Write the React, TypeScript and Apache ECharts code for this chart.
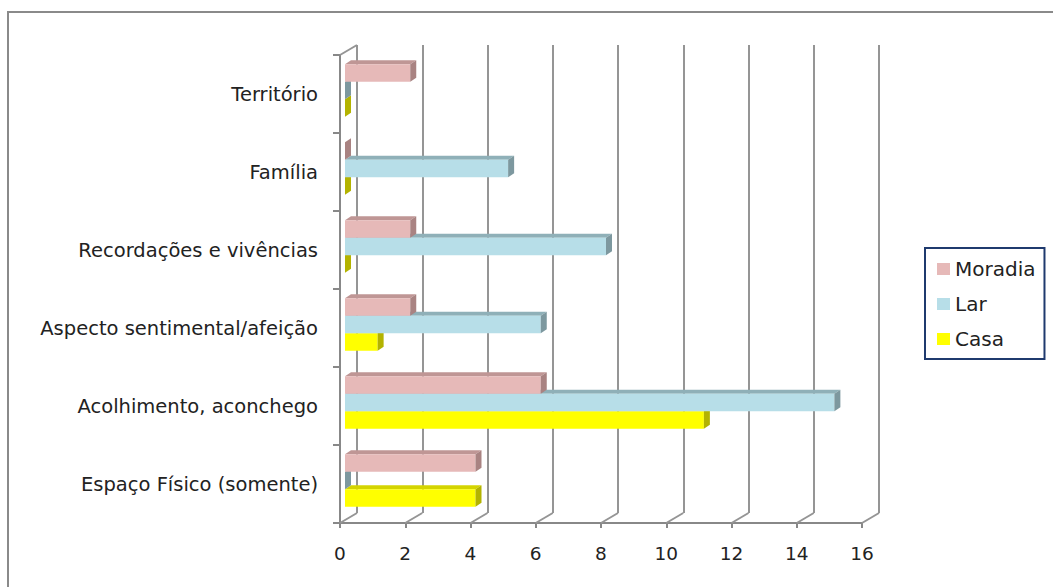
import React, { useEffect, useRef } from "react";
import * as echarts from "echarts";

// Categories, top to bottom
const categories = [
  "Território",
  "Família",
  "Recordações e vivências",
  "Aspecto sentimental/afeição",
  "Acolhimento, aconchego",
  "Espaço Físico (somente)",
];

const moradia = [2, 0, 2, 2, 6, 4];
const lar = [0, 5, 8, 6, 15, 0];
const casa = [0, 0, 0, 1, 11, 4];

const xTicks = [0, 2, 4, 6, 8, 10, 12, 14, 16];

const FONT = "DejaVu Sans";
const GRID_COLOR = "#959595";
const AXIS_COLOR = "#888888";

// Perspective offsets of the 3D box (front plane -> back wall)
const WALL_DX = 17;
const WALL_DY = -10;
// Bar plane sits slightly behind the front plane
const BAR_DX = 5;
const BAR_DY = -3.5;
// Bar thickness in depth
const BAR_DEPTH_X = 6;
const BAR_DEPTH_Y = -4;

type Shades = { face: string; top: string; side: string };

const SHADES: Record<string, Shades> = {
  Moradia: { face: "#e6b9b8", top: "#bf9695", side: "#a98382" },
  Lar: { face: "#b7dee8", top: "#8fb0b8", side: "#7d989f" },
  Casa: { face: "#ffff00", top: "#d4d400", side: "#b3b300" },
};

function barRenderer(slot: number, shades: Shades) {
  return (params: any, api: any) => {
    const v = api.value(0);
    const c = api.value(1);
    const cs = params.coordSys;
    const band = cs.height / categories.length;
    const h = band * 0.225;
    const start = api.coord([0, c]);
    const end = api.coord([v, c]);
    const cy = start[1] + slot * h + BAR_DY;
    const x0 = start[0] + BAR_DX;
    const x1 = end[0] + BAR_DX;
    const y0 = cy - h / 2;
    const y1 = cy + h / 2;
    return {
      type: "group",
      children: [
        {
          type: "polygon",
          shape: {
            points: [
              [x0, y0],
              [x1, y0],
              [x1 + BAR_DEPTH_X, y0 + BAR_DEPTH_Y],
              [x0 + BAR_DEPTH_X, y0 + BAR_DEPTH_Y],
            ],
          },
          style: { fill: shades.top },
        },
        {
          type: "rect",
          shape: { x: x0, y: y0, width: Math.max(x1 - x0, 0), height: h },
          style: { fill: shades.face },
        },
        {
          type: "polygon",
          shape: {
            points: [
              [x1, y0],
              [x1 + BAR_DEPTH_X, y0 + BAR_DEPTH_Y],
              [x1 + BAR_DEPTH_X, y1 + BAR_DEPTH_Y],
              [x1, y1],
            ],
          },
          style: { fill: shades.side },
        },
      ],
    };
  };
}

// Floor edges running from each front tick back to the wall
function floorRenderer(params: any, api: any) {
  const cs = params.coordSys;
  const v = api.value(0);
  const x = api.coord([v, 0])[0];
  const yb = cs.y + cs.height;
  const children: any[] = [
    {
      type: "line",
      shape: { x1: x, y1: yb, x2: x + WALL_DX, y2: yb + WALL_DY },
      style: { stroke: GRID_COLOR, lineWidth: 2 },
    },
  ];
  if (params.dataIndex === 0) {
    children.push({
      type: "line",
      shape: { x1: cs.x, y1: cs.y, x2: cs.x + WALL_DX, y2: cs.y + WALL_DY },
      style: { stroke: GRID_COLOR, lineWidth: 2 },
    });
  }
  return { type: "group", children };
}

const seriesDefs = [
  { name: "Moradia", values: moradia, slot: -1, z: 5 },
  { name: "Lar", values: lar, slot: 0, z: 4 },
  { name: "Casa", values: casa, slot: 1, z: 3 },
];

export default function App() {
  const ref = useRef<HTMLDivElement>(null);

  useEffect(() => {
    if (!ref.current) return;
    const chart = echarts.init(ref.current, undefined, { renderer: "svg" });

    const front = { left: 340, top: 55, width: 522, height: 468 };
    const back = {
      left: front.left + WALL_DX,
      top: front.top + WALL_DY,
      width: front.width,
      height: front.height,
    };

    chart.setOption({
      animation: false,
      backgroundColor: "#ffffff",
      textStyle: { fontFamily: FONT },
      grid: [front, back],
      xAxis: [
        {
          type: "value",
          gridIndex: 0,
          min: 0,
          max: 16,
          interval: 2,
          axisLine: { show: true, lineStyle: { color: AXIS_COLOR, width: 2 } },
          axisTick: { show: true, length: 5, lineStyle: { color: AXIS_COLOR, width: 2 } },
          axisLabel: {
            fontFamily: FONT,
            fontSize: 18.5,
            color: "#222222",
            margin: 21,
          },
          splitLine: { show: false },
        },
        {
          type: "value",
          gridIndex: 1,
          min: 0,
          max: 16,
          interval: 2,
          axisLine: { show: false },
          axisTick: { show: false },
          axisLabel: { show: false },
          splitLine: { show: true, lineStyle: { color: GRID_COLOR, width: 2 } },
        },
      ],
      yAxis: [
        {
          type: "category",
          gridIndex: 0,
          data: categories,
          inverse: true,
          axisLine: { show: true, lineStyle: { color: AXIS_COLOR, width: 2 } },
          axisTick: { show: true, length: 7, lineStyle: { color: AXIS_COLOR, width: 2 } },
          axisLabel: {
            fontFamily: FONT,
            fontSize: 19.5,
            color: "#222222",
            margin: 22,
          },
          splitLine: { show: false },
        },
        {
          type: "category",
          gridIndex: 1,
          data: categories,
          inverse: true,
          show: false,
        },
      ],
      legend: {
        data: seriesDefs.map((s) => ({ name: s.name, icon: "rect" })),
        orient: "vertical",
        left: 925,
        top: 248,
        itemWidth: 13,
        itemHeight: 12,
        itemGap: 15,
        padding: [11, 9, 10, 12],
        borderColor: "#1f3a6e",
        borderWidth: 2,
        backgroundColor: "#ffffff",
        textStyle: { fontFamily: FONT, fontSize: 20, color: "#222222" },
      },
      graphic: [
        {
          type: "line",
          shape: { x1: 7, y1: 12, x2: 1053, y2: 12 },
          style: { stroke: "#8a8a8a", lineWidth: 2 },
        },
        {
          type: "line",
          shape: { x1: 8, y1: 12, x2: 8, y2: 587 },
          style: { stroke: "#8a8a8a", lineWidth: 2 },
        },
      ],
      series: [
        {
          type: "custom",
          name: "floor",
          xAxisIndex: 0,
          yAxisIndex: 0,
          z: 1,
          silent: true,
          renderItem: floorRenderer,
          data: xTicks.map((v) => [v, 0]),
          encode: { x: 0, y: 1 },
        },
        ...seriesDefs.map((s) => ({
          type: "custom",
          name: s.name,
          xAxisIndex: 0,
          yAxisIndex: 0,
          z: s.z,
          itemStyle: { color: SHADES[s.name].face },
          renderItem: barRenderer(s.slot, SHADES[s.name]),
          data: s.values.map((v, i) => [v, i]),
          encode: { x: 0, y: 1 },
        })),
      ],
    });

    return () => chart.dispose();
  }, []);

  return (
    <div
      ref={ref}
      style={{ position: "fixed", left: 0, top: 0, width: 1053, height: 587 }}
    />
  );
}
